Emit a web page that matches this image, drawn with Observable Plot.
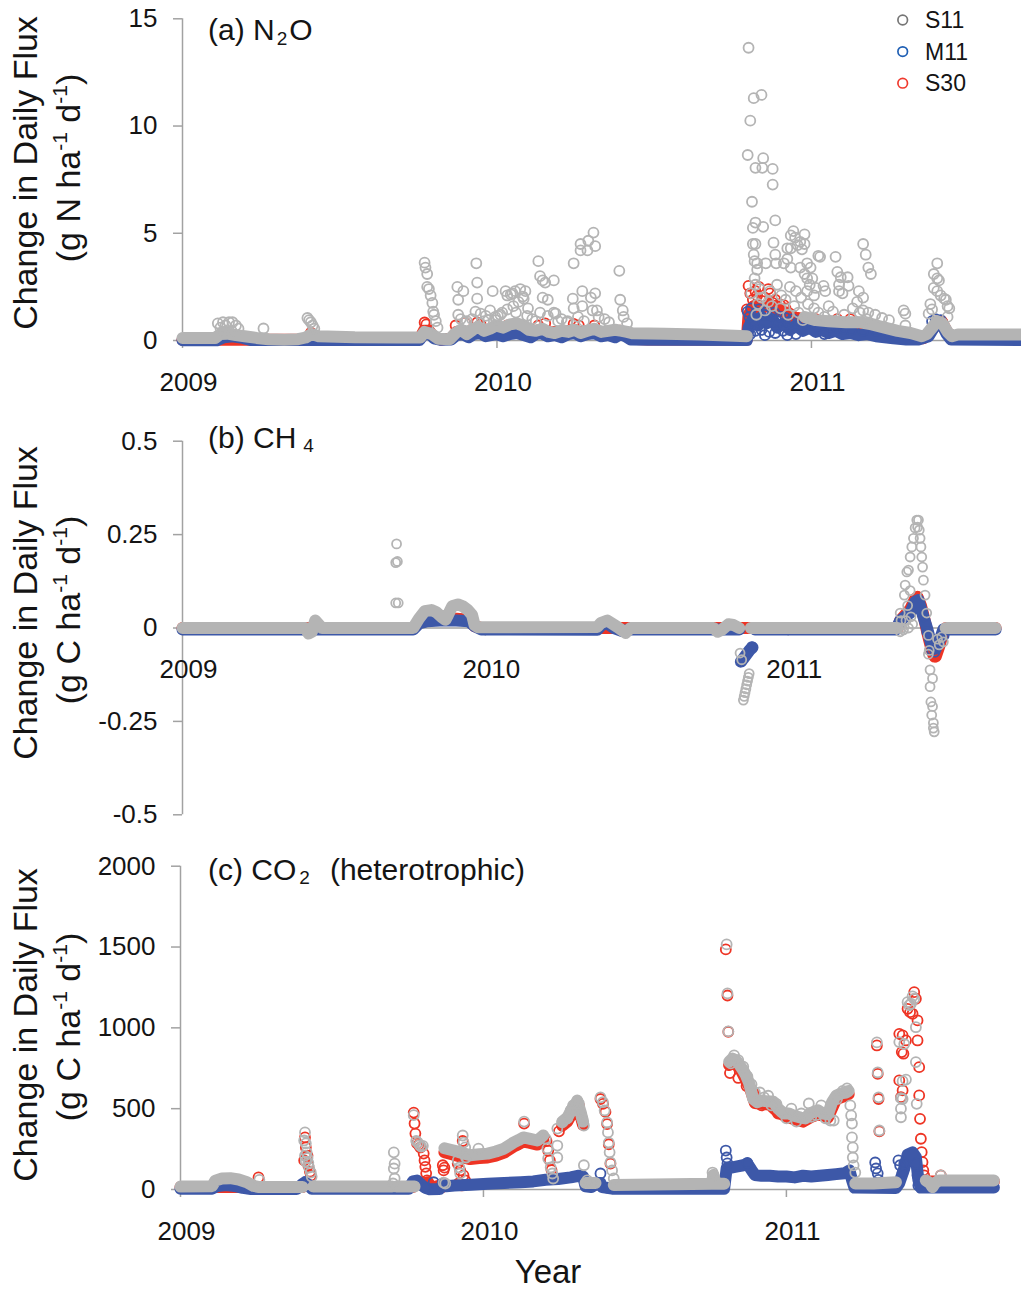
<!DOCTYPE html>
<html>
<head>
<meta charset="utf-8">
<script src="https://cdn.jsdelivr.net/npm/d3@7"></script>
<script src="https://cdn.jsdelivr.net/npm/@observablehq/plot@0.6"></script>
<style>
  html, body { margin: 0; padding: 0; background: #fff; }
  #chart { position: relative; width: 1021px; height: 1289px; overflow: hidden; background: #fff; }
  #chart svg { position: absolute; left: 0; overflow: visible; background: transparent; }
</style>
</head>
<body>
<div id="chart"></div>
<script>
// ---- Series: [model day since 2009-01-01, change in daily flux] ----
// "Band" arrays trace the dense daily runs (null breaks a run); "Dots" arrays hold the scattered days.

// (a) N2O, g N ha-1 d-1
const n2oS11Band = [[0,0.12],[38,0.12],[44,0.3],[52,0.32],[62,0.25],[72,0.2],[86,0.12],[100,0.06],[118,0.04],[134,0.06],[143,0.14],[150,0.3],[158,0.2],[200,0.15],[250,0.14],[276,0.14],[281,0.4],[289,0.3],[297,0.08],[310,0.06],
  [317,0.35],[323,0.5],[330,0.3],[337,0.5],[343,0.65],[350,0.45],[357,0.55],[364,0.7],[372,0.6],[380,0.75],[388,0.8],[395,0.7],[402,0.5],[410,0.45],[418,0.55],[425,0.4],[432,0.35],[440,0.45],[448,0.4],[455,0.5],[462,0.35],[470,0.45],[478,0.55],[486,0.4],[494,0.45],[502,0.5],[510,0.45],[516,0.4],[522,0.34],[560,0.32],[600,0.28],[640,0.22],[655,0.2],
  [700,null],
  [722,1.1],[735,0.95],[750,0.9],[770,0.85],[787,0.85],[800,0.75],[815,0.6],[830,0.45],[845,0.35],[858,0.2],[864,0.3],[870,0.6],[876,0.9],[882,0.8],[888,0.4],[893,0.2],[900,0.28],[976,0.28]];
const n2oS11Dots = [[41,0.8],[44,0.6],[47,0.85],[50,0.7],[54,0.85],[58,0.85],[62,0.7],[65,0.55],[48,0.4],[57,0.45],[94,0.56],
  [145,1.05],[147,0.95],[149,0.85],[151,0.7],[153,0.55],
  [281,3.63],[282,3.4],[284,3.1],[284,2.5],[286,2.4],[288,2.1],[290,1.75],[291,1.35],[292,1.2],[294,0.9],[296,0.6],
  [319,2.5],[326,2.3],[320,1.9],[320,1.2],[323,1.0],[328,0.85],
  [341,3.6],[342,2.7],[342,1.95],[340,1.35],[346,1.25],[352,1.15],[360,2.3],[357,1.4],[363,1.1],[369,1.2],[355,0.95],
  [377,2.1],[381,2.15],[386,2.3],[392,2.4],[398,2.3],[396,1.95],[390,1.8],[384,1.6],[377,1.45],[371,1.3],[366,1.15],[387,1.3],[401,1.5],[400,1.15],[375,2.3],[383,2.2],[395,2.05],[406,1.0],
  [413,3.7],[415,3.0],[418,2.8],[421,2.7],[431,2.8],[418,2.0],[424,1.9],[415,1.3],[424,1.15],[431,1.3],[433,1.26],[440,1.0],
  [454,3.6],[462,4.5],[471,4.65],[470,4.2],[479,4.4],[462,4.2],[477,5.03],
  [464,2.3],[479,2.2],[474,2.0],[453,1.95],[454,1.5],[464,1.6],[476,1.4],[481,1.4],[483,1.1],[459,1.1],[447,0.9],
  [507,3.25],[508,1.9],[511,1.4],[512,1.1],[516,0.8],
  [330,0.9],[336,1.0],[350,0.9],[364,0.95],[410,0.9],[436,0.9],[446,0.85],[466,0.9],[490,1.0],[495,0.85],
  [657,13.65],[663,11.3],[672,11.45],[659,10.25],[656,8.65],[665,8.05],[674,8.5],[673,8.05],[685,8.0],[685,7.27],[661,6.47],[665,5.5],[662,5.25],[674,5.3],[688,5.6],[686,4.56],[662,4.5],[665,4.5],[663,4.0],[667,3.6],[677,3.6],[689,3.6],
  [709,5.1],[706,4.9],[711,4.8],[717,4.6],[722,4.95],[714,4.45],[722,4.5],[719,4.25],[702,4.3],[706,4.3],[688,4.0],[698,3.6],[702,3.8],[706,3.4],
  [738,3.95],[740,3.9],[758,3.9],[725,3.6],[729,3.4],[717,3.4],[722,3.1],[725,2.9],
  [790,4.5],[793,4.0],[796,3.4],[799,3.1],
  [760,3.2],[764,2.95],[762,2.6],[772,2.95],[773,2.55],[762,2.3],[766,2.2],
  [744,2.55],[746,2.3],[731,2.9],[735,2.45],[725,2.3],[728,2.6],[733,2.1],
  [785,2.3],[790,2.0],[783,1.8],[790,1.4],[796,1.3],[794,1.0],
  [837,1.4],[839,1.25],[839,0.7],
  [876,3.6],[872,3.1],[876,2.9],[878,2.8],[872,2.45],[876,2.3],[880,2.1],[884,1.95],[886,1.9],[888,1.6],[890,1.5],[888,1.1],[868,1.7],[870,1.45],[866,1.25],
  [664,3.7],[667,3.3],[664,2.9],[665,2.6],[670,2.4],[672,2.0],[680,1.8],[676,1.4],[684,1.6],[666,1.2],[690,2.6],[695,2.1],[700,1.9],[705,2.5],[712,2.3],[718,2.0],[726,1.7],[733,1.5],[738,1.3],[750,1.6],[755,1.35],[745,1.1],[768,1.2],[778,1.5],[786,1.3],[804,1.2],[812,1.05],[820,0.95],
  [660,2.2],[668,1.7],[682,2.3],[694,1.5],[703,1.2],[710,1.6],[715,1.3],[720,0.95]];
const n2oM11Band = [[0,0.01],[40,0.01],[48,0.15],[58,0.2],[70,0.12],[80,0.02],[275,0.02],[280,0.3],[286,0.35],[292,0.1],[300,0.03],[312,0.05],[318,0.25],[325,0.3],[332,0.15],[338,0.3],[345,0.35],[352,0.2],[358,0.25],[364,0.3],[372,0.2],[380,0.3],[388,0.35],[396,0.25],[404,0.15],[410,0.3],[416,0.35],[424,0.2],[432,0.25],[440,0.15],[448,0.3],[455,0.35],[462,0.2],[470,0.3],[478,0.35],[486,0.2],[494,0.25],[502,0.15],[508,0.3],[514,0.2],[520,0.05],[540,0.03],[655,0.02],
  [657,0.6],[662,1.0],[668,0.7],[672,1.1],[678,0.8],[685,1.0],[690,0.6],[698,0.8],[705,0.5],[712,0.7],[720,0.45],[728,0.6],[735,0.4],[742,0.5],[750,0.35],[758,0.45],[766,0.3],[775,0.35],[785,0.25],[795,0.3],[805,0.2],[815,0.15],[825,0.1],[840,0.05],[855,0.05],[866,0.2],[872,0.6],[877,0.85],[882,0.7],[887,0.3],[892,0.05],[976,0.02]];
const n2oM11Dots = [[656,1.35],[658,1.1],[660,1.5],[663,0.9],[666,1.3],[669,1.45],[672,0.5],[675,1.2],[678,1.35],[681,0.4],[684,1.15],[687,1.3],[690,0.9],[694,1.1],[697,0.45],[700,1.05],[704,0.85],[708,1.0],[712,0.3],[716,0.9],[722,0.75],[730,0.85],[738,0.7],[745,0.3],[752,0.65],[760,0.6],[768,0.55],[776,0.5],[790,0.45],[805,0.45],[820,0.35],[870,0.9],[874,1.0],[880,0.95],[659,0.3],[665,0.45],[676,0.25],[688,0.35],[702,0.25]];
const n2oS30Band = [[0,0.03],[275,0.05],[280,0.45],[286,0.45],[292,0.15],[300,0.05],[312,0.1],[318,0.4],[325,0.45],[332,0.3],[338,0.45],[345,0.5],[352,0.35],[358,0.4],[364,0.45],[372,0.35],[380,0.45],[388,0.5],[396,0.4],[404,0.3],[410,0.45],[416,0.5],[424,0.35],[432,0.4],[440,0.3],[448,0.45],[455,0.5],[462,0.35],[470,0.45],[478,0.5],[486,0.35],[494,0.4],[502,0.3],[508,0.45],[514,0.35],[520,0.08],[540,0.05],[655,0.04],
  [657,1.2],[663,1.6],[670,1.4],[676,1.6],[682,1.7],[688,1.5],[694,1.4],[700,1.3],[706,1.2],[712,1.0],[720,0.85],[730,0.9],[740,0.85],[750,0.8],[760,0.85],[770,0.7],[780,0.75],[790,0.6],[800,0.45],[810,0.35],[820,0.25],[835,0.15],[860,0.1],[870,0.5],[876,0.85],[881,0.9],[886,0.5],[892,0.1],[976,0.05]];
const n2oS30Dots = [[149,0.37],[281,0.84],[283,0.75],[317,0.7],[328,0.84],[342,0.84],[346,0.75],[359,0.56],[377,0.7],[413,0.7],[421,0.8],[454,0.77],[460,0.7],[478,0.7],
  [657,2.55],[659,2.2],[665,2.3],[669,2.5],[680,2.4],[682,2.2],[667,2.1],[662,1.9],[676,2.0],[655,1.45],[685,1.75],[690,1.6],[695,1.4],[700,1.5],[705,1.25],[710,1.1],[715,1.05],[735,1.0],[760,1.0],[775,1.0],[876,0.9],[882,0.85],[672,1.85],[688,1.9],[693,1.7],[698,1.65]];

// (b) CH4, g C ha-1 d-1
const ch4S11Band = [[0,0],[148,0],[152,-0.015],[156,-0.01],[160,0.02],[164,0.01],[168,0],[278,0],[285,0.025],[292,0.045],[300,0.048],[306,0.042],[312,0.03],[317,0.022],[320,0.035],[325,0.058],[332,0.063],[338,0.058],[344,0.048],[349,0.035],[352,0.008],[356,0.002],[500,0.003],[504,0.013],[512,0.02],[524,0.003],[534,-0.013],[540,0],[640,0],[645,-0.01],[650,-0.005],[658,0.01],[664,0.008],[671,0],
  [672,null],[685,0],[862,0],[863,null],[921,0],[980,0]];
const ch4S11Dots = [[258,0.225],[257,0.175],[259,0.178],[257,0.067],[260,0.067],
  [672,-0.067],[674,-0.085],[676,-0.193],[677,-0.183],[678,-0.173],[679,-0.163],[680,-0.152],[681,-0.142],[682,-0.132],[683,-0.122],
  [865,0.04],[866,0.02],[865,-0.01],[867,0.0],[869,-0.005],[870,0.088],[871,0.115],[873,0.15],[875,0.155],[877,0.19],[879,0.217],[881,0.24],[883,0.268],[885,0.289],[887,0.289],[888,0.262],[889,0.24],[890,0.217],[891,0.19],[892,0.163],[893,0.128],[895,0.088],[897,0.04],[899,-0.02],[900,-0.06],[899,-0.07],[901,-0.112],[904,-0.135],[901,-0.157],[902,-0.198],[904,-0.21],[903,-0.233],[905,-0.254],[905,-0.268],[906,-0.278],[915,-0.024],[917,-0.037],[919,0.0],[874,0.06],[877,0.1],[886,0.27],[872,0.02],[875,0.0],[878,0.03],[880,0.01],[910,-0.03],[912,-0.045]];
const ch4M11Band = [[0,-0.004],[278,-0.004],[285,0.012],[295,0.018],[310,0.02],[330,0.02],[345,0.018],[352,0.005],[360,-0.004],[500,-0.005],[505,0.008],[512,0.012],[520,0],[530,-0.008],[540,-0.004],[671,-0.004],
  [672,null],[673,-0.09],[676,-0.082],[680,-0.07],[684,-0.058],[687,-0.052],[688,null],[690,-0.004],[860,-0.004],[865,0.02],[877,0.04],[883,0.07],[887,0.075],[893,0.03],[898,-0.005],[902,-0.04],[905,-0.05],[908,-0.055],[913,-0.03],[917,-0.004],[980,-0.004]];
const ch4M11Dots = [[893,0.03],[897,-0.01],[903,-0.06],[907,-0.065],[918,-0.02],[674,-0.09],[686,-0.05]];
const ch4S30Band = [[0,0],[278,0],[285,0.015],[295,0.022],[310,0.025],[330,0.025],[345,0.022],[352,0.005],[360,0],[862,0],[865,0.02],[877,0.05],[883,0.078],[886,0.082],[890,0.06],[894,0.025],[898,-0.015],[902,-0.05],[905,-0.072],[908,-0.076],[912,-0.05],[917,-0.01],[920,0],[980,0]];
const ch4S30Dots = [[886,0.085],[906,-0.078]];

// (c) CO2 (heterotrophic), g C ha-1 d-1
const co2S11Band = [[0,18],[38,20],[42,55],[50,68],[60,70],[70,62],[80,45],[88,22],[95,15],[147,15],[148,null],[160,18],[255,18],[256,null],[260,18],[282,18],[283,null],
  [318,255],[329,241],[340,225],[349,212],[360,218],[370,222],[380,235],[390,253],[401,290],[407,305],[413,322],[420,315],[430,303],[437,334],[438,null],
  [460,420],[466,445],[472,500],[478,545],[482,480],[485,420],[486,null],
  [488,40],[500,40],[501,null],[522,28],[640,35],[642,90],[645,35],[655,35],[656,null],
  [661,790],[665,810],[669,800],[673,775],[677,745],[681,710],[685,660],[690,560],[695,540],[700,550],[708,545],[714,545],[720,500],[727,470],[733,470],[740,455],[747,445],[753,440],[758,470],[763,480],[768,490],[774,470],[780,465],[785,540],[790,580],[796,595],[802,600],[805,610],[806,null],
  [813,37],[835,37],[862,45],[863,null],[898,56],[903,40],[906,15],[909,40],[914,56],[980,56]];
const co2S11Dots = [[95,60],
  [150,353],[149,303],[151,285],[150,210],[151,173],[152,230],[153,195],[154,165],[155,135],[157,105],[158,80],
  [257,230],[258,160],[257,130],[258,68],[256,37],
  [281,460],[284,300],[286,290],[288,275],[290,265],[292,270],[317,43],[319,37],
  [340,334],[341,290],[343,260],[344,198],[334,180],[336,136],[337,99],[359,253],[414,420],
  [440,315],[442,254],[443,192],[446,136],[448,99],[449,68],[454,272],[454,198],
  [454,377],[460,415],[466,440],[470,489],[473,520],[478,551],[480,532],[482,476],[484,440],[486,396],[486,150],[490,56],[496,40],
  [506,570],[509,540],[511,489],[514,415],[515,353],[516,290],[517,230],[518,167],[520,118],[522,68],
  [641,105],[642,87],
  [658,1516],[659,1213],[660,978],
  [663,780],[667,830],[672,800],[678,760],[683,700],[688,650],[692,600],[698,600],[703,570],[708,580],[712,520],[718,530],[724,480],[730,440],[736,500],[742,420],[748,470],[757,532],[760,450],[766,460],[772,520],[777,440],[783,427],[787,427],[791,560],[798,610],[803,625],
  [807,520],[808,458],[809,408],[809,322],[810,260],[810,198],[811,149],[813,105],
  [839,910],[840,724],[841,570],[842,365],
  [866,912],[868,565],[870,670],[874,680],[868,447],[876,1159],[880,1149],[884,1180],[882,1195],[886,1004],[886,788],[887,530],[878,1140],[872,900],[870,560],[868,500],
  [916,87]];
const co2M11Band = [[0,5],[38,5],[45,22],[55,28],[65,22],[75,10],[85,3],[140,3],[146,30],[150,45],[154,30],[158,5],[275,5],[280,50],[285,55],[290,30],[295,10],[300,2],[312,3],[316,30],[320,20],[330,25],[350,30],[370,35],[390,40],[410,45],[425,50],[440,60],[455,65],[470,75],[480,85],[485,80],[488,20],[495,15],[502,40],[506,40],[508,15],[520,5],[655,5],
  [658,130],[668,140],[678,150],[683,160],[688,120],[692,90],[700,85],[710,85],[720,80],[730,80],[740,75],[750,85],[760,80],[770,85],[780,90],[790,95],[800,100],[806,118],[809,60],[812,12],[862,10],[866,40],[872,130],[876,215],[882,230],[886,200],[889,60],[892,12],[980,12]];
const co2M11Dots = [[305,45],[316,37],[295,12],[506,99],[514,12],[657,241],[658,198],[659,161],[837,167],[838,130],[840,100],[841,60],[865,180],[867,150],[870,105],[872,160],[886,160],[888,87],[889,25],[683,165]];
const co2S30Band = [[0,15],[147,15],[148,null],[160,15],[280,15],[281,null],[298,45],[302,18],[306,10],[310,22],[314,12],[316,null],
  [318,230],[329,215],[340,200],[349,188],[360,194],[370,198],[380,210],[390,228],[401,265],[407,280],[413,297],[420,290],[430,278],[437,308],[438,null],
  [460,395],[466,420],[472,475],[478,520],[482,455],[485,400],[486,null],
  [488,30],[500,30],[501,null],[522,22],[655,28],[656,null],
  [661,770],[667,790],[673,760],[680,690],[686,630],[692,535],[700,530],[710,525],[720,478],[730,450],[740,435],[750,420],[760,450],[770,468],[780,445],[790,560],[800,578],[805,590],[806,null],
  [813,30],[862,35],[863,null],[898,50],[980,50]];
const co2S30Dots = [[94,75],
  [150,322],[149,180],[151,260],[153,210],[154,150],[156,110],[157,85],
  [281,476],[282,408],[283,346],[285,285],[287,275],[289,260],[293,222],[294,180],[295,140],[296,100],[297,56],
  [316,150],[317,118],[318,135],
  [334,161],[337,118],[341,87],[343,56],[335,37],[339,25],[340,300],[414,408],
  [441,300],[443,240],[445,180],[447,120],[449,70],
  [456,360],[464,420],[474,500],[480,520],
  [506,560],[509,530],[512,480],[514,405],[516,280],[518,160],
  [657,1485],[659,1200],[660,976],
  [662,720],[672,690],[682,640],[690,600],[700,520],[720,470],[745,430],
  [839,891],[840,715],[841,560],[842,360],
  [866,963],[870,953],[874,922],[869,850],[871,840],[866,675],[870,613],[868,571],
  [884,1221],[886,1180],[876,1118],[879,1097],[882,1087],
  [888,1046],[888,922],[890,757],[890,582],[891,437],[892,314],[893,231],[894,169],[895,118],[896,87],[898,56],
  [916,87]];

// ---- Axes ----
const yearLabels = [2009, 2010, 2011];
const n2oTicks = [0, 5, 10, 15];
const ch4Ticks = [-0.5, -0.25, 0, 0.25, 0.5];
const co2Ticks = [0, 500, 1000, 1500, 2000];

// ---- Scenarios ----
const scenarios = ["S11", "M11", "S30"];
const drawOrder = ["S30", "M11", "S11"];
const seriesColor = {S11: "#b4b4b4", M11: "#3d58a8", S30: "#ee3424"};
const legendColor = {S11: "#767676", M11: "#1f5fb4", S30: "#f03a2e"};

const FONT = "'Liberation Sans', Arial, Helvetica, sans-serif";
const AXIS = "#a2a2a2";
const INK = "#141414";
const DAY = 864e5;
const T0 = Date.UTC(2009, 0, 1);
const dayToDate = d => new Date(T0 + d * DAY);

const panels = [
  {top: 0, height: 405, marginTop: 18.3, marginBottom: 65, marginLeft: 182, marginRight: 0, lastDay: 973.8,
   yDomain: [0, 15], yTicks: n2oTicks, r: 5,
   data: {S11: [n2oS11Band, n2oS11Dots], M11: [n2oM11Band, n2oM11Dots], S30: [n2oS30Band, n2oS30Dots]},
   title: [{text: "(a) N"}, {text: "2", size: 19, shift: 5, dx: 2}, {text: "O", shift: 0, dx: 2}], titleY: 40,
   element: "N", label1Y: 173, label2Y: 168, legend: true},
  {top: 405, height: 435, marginTop: 35.7, marginBottom: 25.7, marginLeft: 182, marginRight: 25.9, lastDay: 980,
   yDomain: [-0.5, 0.5], yTicks: ch4Ticks, r: 4.5,
   data: {S11: [ch4S11Band, ch4S11Dots], M11: [ch4M11Band, ch4M11Dots], S30: [ch4S30Band, ch4S30Dots]},
   title: [{text: "(b) CH"}, {text: "4", size: 19, shift: 4, dx: 7}], titleY: 43,
   element: "C", label1Y: 198, label2Y: 205},
  {top: 840, height: 449, marginTop: 25.7, marginBottom: 100, marginLeft: 180, marginRight: 27.6, lastDay: 980,
   yDomain: [0, 2000], yTicks: co2Ticks, r: 5,
   data: {S11: [co2S11Band, co2S11Dots], M11: [co2M11Band, co2M11Dots], S30: [co2S30Band, co2S30Dots]},
   title: [{text: "(c) CO"}, {text: "2", size: 19, shift: 4, dx: 3}, {text: "(heterotrophic)", shift: 0, dx: 20}], titleY: 40,
   element: "C", label1Y: 185, label2Y: 187, xTitle: true}
];

function richText(svg, x, y, parts, size, opts = {}) {
  const t = d3.select(svg).append("text")
    .attr("transform", `translate(${x},${y})` + (opts.rotate ? ` rotate(${opts.rotate})` : ""))
    .attr("text-anchor", opts.anchor || "start")
    .attr("font-family", FONT)
    .attr("font-size", size)
    .attr("fill", INK);
  let shift = 0;
  for (const p of parts) {
    const s = p.shift || 0;
    t.append("tspan")
      .attr("dy", s - shift)
      .attr("dx", p.dx || 0)
      .attr("font-size", p.size || size)
      .text(p.text);
    shift = s;
  }
  return t;
}

function drawPanel(p) {
  const start = dayToDate(0);
  const end = dayToDate(p.lastDay);
  const years = yearLabels.map(y => new Date(Date.UTC(y, 0, 1)));
  const X = d => dayToDate(d[0]);
  const Y = d => d[1];

  const marks = [
    // y axis line, ticks and labels
    Plot.ruleX([0], {x: () => start, y1: () => p.yDomain[0], y2: () => p.yDomain[1], stroke: AXIS, strokeWidth: 1.5}),
    Plot.ruleY(p.yTicks, {y: d => d, x1: () => start, x2: () => start, insetLeft: -9, stroke: AXIS, strokeWidth: 1.5}),
    Plot.text(p.yTicks, {y: d => d, x: () => start, text: d => String(d), textAnchor: "end", dx: -25, fontSize: 26, fill: INK}),
    // x axis along zero
    Plot.ruleY([0], {y: () => 0, x1: () => start, x2: () => end, stroke: AXIS, strokeWidth: 1.5}),
    Plot.ruleX(years, {x: d => d, y1: () => 0, y2: () => 0, insetBottom: -8, stroke: AXIS, strokeWidth: 1.5}),
    Plot.text(years, {x: d => d, y: () => 0, text: d => String(d.getUTCFullYear()), dy: 42, dx: 6, fontSize: 26, fill: INK})
  ];

  for (const s of drawOrder) {
    const [band, dots] = p.data[s];
    marks.push(Plot.line(band, {x: X, y: Y, stroke: seriesColor[s], strokeWidth: 12, strokeLinecap: "round", strokeLinejoin: "round"}));
    marks.push(Plot.dot(dots, {x: X, y: Y, r: p.r, stroke: seriesColor[s], strokeWidth: 1.8}));
  }

  const svg = Plot.plot({
    width: 1021,
    height: p.height,
    marginTop: p.marginTop,
    marginBottom: p.marginBottom,
    marginLeft: p.marginLeft,
    marginRight: p.marginRight,
    style: {fontFamily: FONT, background: "transparent", overflow: "visible"},
    x: {type: "utc", domain: [start, end], axis: null},
    y: {domain: p.yDomain, axis: null},
    marks
  });
  svg.style.top = p.top + "px";

  // panel title
  richText(svg, 208, p.titleY, p.title, 30).style("white-space", "pre");

  // y-axis title (two rotated lines)
  richText(svg, 37, p.label1Y, [{text: "Change in Daily Flux"}], 34, {rotate: -90, anchor: "middle"});
  richText(svg, 80, p.label2Y, [
    {text: `(g ${p.element} ha`},
    {text: "-1", size: 21, shift: -13},
    {text: " d", shift: 0},
    {text: "-1", size: 21, shift: -13},
    {text: ")", shift: 0}
  ], 34, {rotate: -90, anchor: "middle"}).style("white-space", "pre");

  if (p.legend) {
    const g = d3.select(svg).append("g");
    scenarios.forEach((s, i) => {
      const cy = 20 + i * 31.6;
      g.append("circle").attr("cx", 902.7).attr("cy", cy).attr("r", 4.8)
        .attr("fill", "none").attr("stroke", legendColor[s]).attr("stroke-width", 1.7);
      g.append("text").attr("x", 925).attr("y", cy).attr("dy", "0.35em")
        .attr("text-anchor", "start")
        .attr("font-family", FONT).attr("font-size", 23).attr("fill", INK).text(s);
    });
  }

  if (p.xTitle) {
    richText(svg, 548, 443, [{text: "Year"}], 33, {anchor: "middle"});
  }
  return svg;
}

const chart = document.getElementById("chart");
for (const p of panels) chart.appendChild(drawPanel(p));
</script>
</body>
</html>
